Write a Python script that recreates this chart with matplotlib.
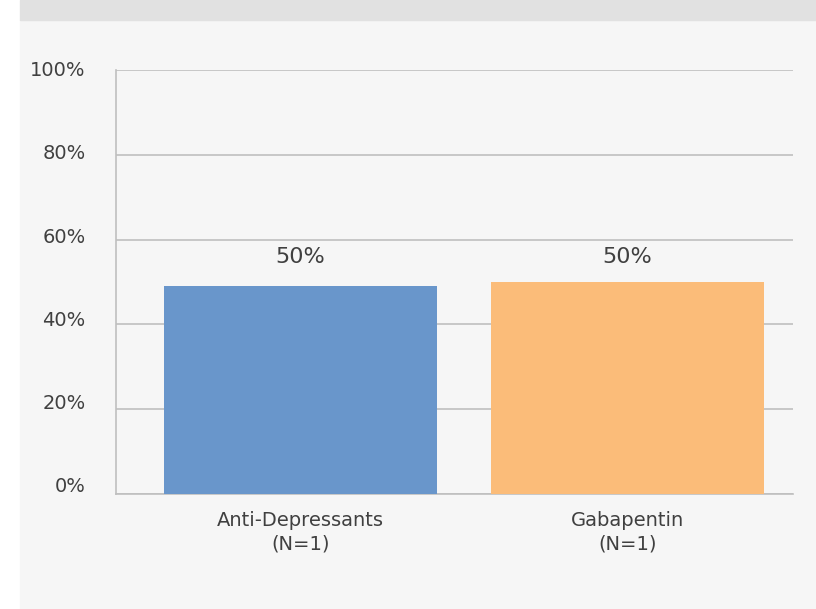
import matplotlib.pyplot as plt
from matplotlib.patches import Rectangle
from matplotlib.transforms import ScaledTranslation

categories = ['Anti-Depressants\n(N=1)', 'Gabapentin\n(N=1)']
values = [49, 50]
value_labels = ['50%', '50%']
colors = ['#6996cb', '#fbbc79']
yticks = [0, 20, 40, 60, 80, 100]

plt.rcParams['font.family'] = ['DejaVu Sans']
text_col = '#404040'
grid_col = '#bfbfbf'

fig = plt.figure(figsize=(8.16, 6.09), dpi=100, facecolor='white')
# panel background and top band, kept behind the axes
fig.add_artist(Rectangle((20 / 816, 0), 1 - 20 / 816, 1 - 20 / 609,
                         transform=fig.transFigure, color='#f6f6f6', zorder=-10))
fig.add_artist(Rectangle((20 / 816, 1 - 20 / 609), 1 - 20 / 816, 20 / 609,
                         transform=fig.transFigure, color='#e1e1e1', zorder=-10))

ax = fig.add_axes([116 / 816, 1 - 494 / 609, 677 / 816, 424 / 609])
ax.set_facecolor('none')

x = list(range(len(categories)))
ax.bar(x, values, width=0.835, color=colors, zorder=3)
for xi, lab in zip(x, value_labels):
    ax.text(xi, 56, lab, ha='center', va='center', fontsize=16, color=text_col, zorder=4)

ax.set_xlim(-0.564, 1.506)
ax.set_ylim(0, 100)
ax.set_yticks(yticks)
ax.set_yticklabels([f'{v}%' for v in yticks])
ax.set_xticks(x)
ax.set_xticklabels(categories, linespacing=1.3)
ax.tick_params(axis='y', length=0, pad=22, labelsize=14, labelcolor=text_col)
ax.tick_params(axis='x', length=0, pad=12, labelsize=14, labelcolor=text_col)
# y labels sit a little above their gridlines, more so near the bottom
for i, lab in enumerate(ax.get_yticklabels()):
    shift = (9 - 1.5 * i) / 100
    lab.set_transform(lab.get_transform() + ScaledTranslation(0, shift, fig.dpi_scale_trans))
ax.yaxis.grid(True, color=grid_col, linewidth=1.2, zorder=1)
ax.set_axisbelow(True)
for s in ['top', 'right']:
    ax.spines[s].set_visible(False)
for s in ['left', 'bottom']:
    ax.spines[s].set_color(grid_col)
    ax.spines[s].set_linewidth(1.2)

fig.savefig('out.png', dpi=100, facecolor=fig.get_facecolor())
